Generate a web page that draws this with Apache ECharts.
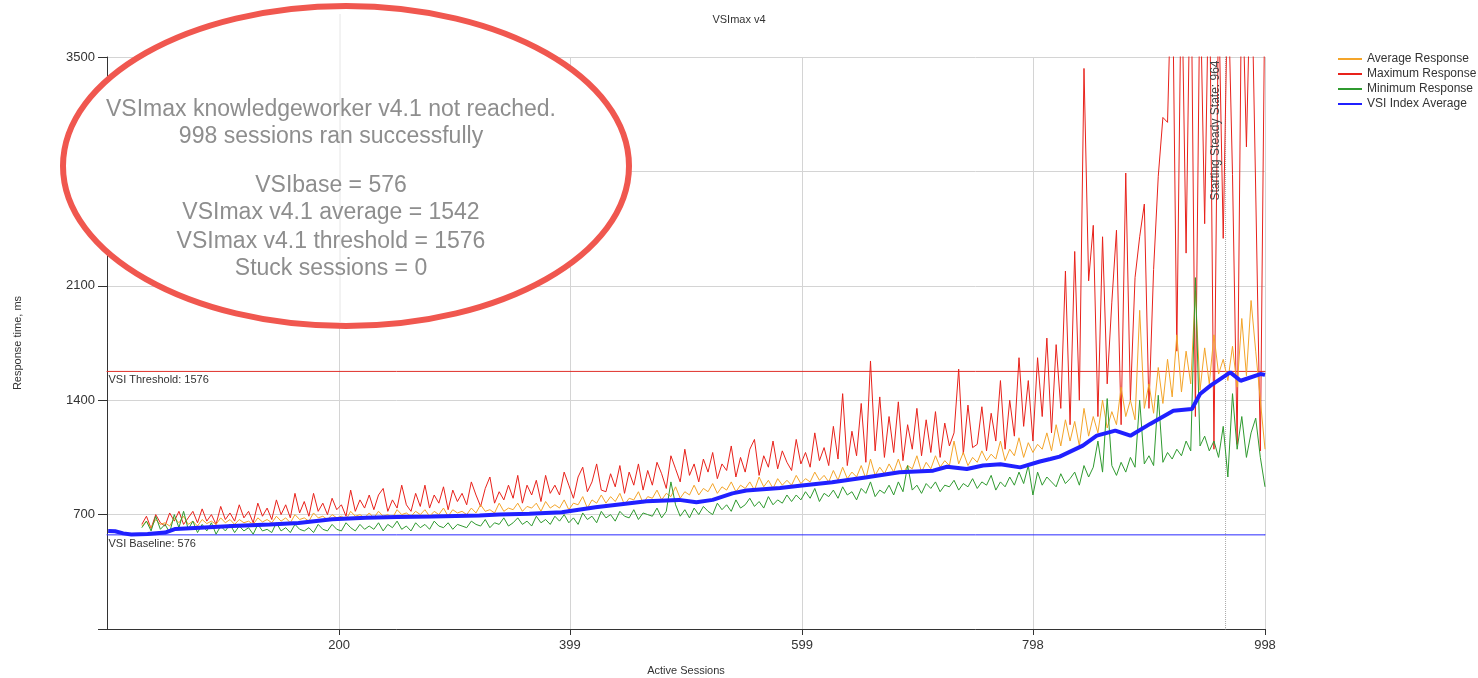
<!DOCTYPE html>
<html>
<head>
<meta charset="UTF-8">
<title>VSImax v4</title>
<script type="text/javascript" src="https://cdn.jsdelivr.net/npm/echarts@6.0.0/dist/echarts.min.js"></script>
<style>html,body{margin:0;padding:0;background:#fff;}</style>
</head>
<body>
<div id="mychar" style="width:1478px;height:678px;"></div>

<script type="text/javascript">

// x axis labels (active sessions)
var xTicks = [200, 399, 599, 798, 998];
var xMin = 0, xMax = 998, yMin = 0, yMax = 3500;

// response samples start at session 30, one every 4 sessions
var firstSession = 30, sessionStep = 4;

var maxResponse = [
  640, 690, 615, 700, 650, 630, 710, 660, 720, 640,
  680, 720, 650, 735, 660, 700, 640, 750, 670, 710,
  660, 760, 680, 720, 650, 770, 690, 740, 670, 790,
  700, 760, 680, 830, 710, 780, 690, 830, 720, 770,
  700, 800, 730, 760, 690, 850, 720, 790, 740, 820,
  730, 820, 860, 720, 790, 740, 880, 760, 720, 830,
  750, 880, 740, 820, 770, 870, 730, 850, 780, 830,
  760, 900, 820, 750, 860, 930, 770, 840, 790, 880,
  800, 940, 770, 880, 820, 910, 780, 940, 830, 880,
  820, 960, 880, 800, 930, 990, 840, 900, 1010, 850,
  840, 950, 870, 1000, 830, 960, 880, 1010, 850, 970,
  880, 1020, 950, 860, 1060, 980, 900, 1100, 940, 1010,
  900, 1040, 960, 1080, 920, 1010, 970, 1120, 930, 1050,
  960, 1100, 1160, 940, 1060, 990, 1150, 980, 1090, 1020,
  970, 1160, 1010, 1080, 990, 1200, 1030, 1110, 1000, 1240,
  1040, 1440, 1000, 1210, 1060, 1380, 1020, 1640, 1090, 1420,
  1050, 1300, 1080, 1390, 1030, 1250, 1100, 1350, 1060, 1280,
  1080, 1330, 1050, 1260, 1120, 1200, 1590, 1070, 1370, 1110,
  1130, 1360, 1090, 1320, 1150, 1520, 1100, 1400, 1180, 1660,
  1240, 1520, 1150, 1660, 1300, 1780, 1200, 1740, 1350, 2190,
  1250, 2310, 1400, 3430, 2130, 2470, 1300, 2400, 1500, 2000,
  2440, 1250, 2790, 1400, 2150, 2400, 2600, 1350, 2200, 2770,
  3130, 3100, 4200, 1700, 4100, 2300, 4300, 1300, 4000, 2480,
  4200, 1100, 3900, 2390, 4000, 2780, 1130, 4100, 2950, 4200,
  2680, 1090, 4000
];

var avgResponse = [
  630, 660, 620, 670, 640, 650, 630, 680, 650, 690,
  640, 660, 630, 670, 645, 660, 640, 680, 650, 670,
  640, 670, 650, 660, 640, 680, 655, 670, 650, 690,
  660, 680, 650, 700, 670, 680, 660, 710, 680, 690,
  670, 700, 680, 690, 670, 720, 690, 700, 680, 710,
  680, 720, 690, 700, 680, 730, 700, 710, 690, 720,
  700, 730, 690, 720, 700, 740, 690, 730, 710, 720,
  700, 740, 710, 760, 720, 730, 710, 770, 720, 740,
  730, 770, 720, 750, 740, 770, 720, 780, 740, 760,
  740, 790, 730, 770, 760, 810, 740, 790, 770, 820,
  770, 810, 780, 830, 760, 800, 790, 840, 770, 810,
  800, 850, 790, 830, 810, 870, 800, 840, 820, 880,
  820, 860, 840, 890, 830, 870, 850, 900, 840, 880,
  860, 900, 850, 930, 870, 910, 860, 920, 880, 910,
  880, 940, 890, 920, 900, 960, 910, 940, 900, 970,
  910, 990, 920, 960, 930, 1000, 920, 1040, 940, 990,
  950, 1010, 960, 1040, 950, 1000, 980, 1060, 960, 1020,
  980, 1060, 990, 1030, 1000, 1150, 1010, 1080, 1000, 1050,
  1020, 1090, 1030, 1070, 1040, 1150, 1030, 1100, 1060, 1170,
  1050, 1140, 1080, 1130, 1100, 1200, 1090, 1250, 1120, 1280,
  1150, 1270, 1120, 1350, 1180, 1300, 1200, 1400, 1230, 1330,
  1250, 1480, 1300, 1400, 1280, 1950, 1350, 1500, 1320, 1600,
  1380, 1650, 1420, 1800, 1450, 1700, 1500, 2070, 1460, 1720,
  1500, 1800, 1560, 1650, 1520, 1730, 1480, 1900, 1550, 2010,
  1700, 1400, 1100
];

var minResponse = [
  620, 660, 600, 690, 610, 640, 590, 700, 620, 720,
  610, 660, 590, 640, 600, 650, 580, 630, 600, 640,
  590, 630, 600, 620, 580, 640, 600, 610, 590, 650,
  600, 620, 590, 640, 610, 600, 620, 590, 640, 610,
  600, 640, 610, 600, 650, 620, 600, 640, 610, 630,
  610, 650, 600, 640, 620, 660, 610, 630, 600, 650,
  620, 640, 610, 660, 630, 620, 650, 610, 640, 630,
  620, 660, 640, 630, 670, 620, 650, 640, 680, 630,
  650, 680, 640, 660, 630, 690, 650, 670, 640, 690,
  660, 700, 650, 680, 640, 710, 670, 690, 650, 720,
  680, 700, 660, 720, 690, 680, 730, 670, 710, 700,
  690, 740, 680, 720, 900, 760, 690, 730, 680, 740,
  700, 750, 720, 700, 770, 730, 760, 720, 790, 740,
  760, 800, 750, 780, 740, 810, 760, 790, 770, 820,
  780, 820, 790, 840, 800, 860, 780, 830, 810, 850,
  800, 870, 820, 840, 790, 860, 830, 900, 810, 850,
  830, 880, 820, 900, 840, 1000, 850, 880, 830, 890,
  860, 900, 840, 880, 870, 910, 850, 890, 870, 920,
  860, 900, 880, 940, 850, 900, 870, 930, 880, 960,
  890, 1000, 820, 960, 880, 930, 900, 870, 950, 890,
  920, 960, 880, 1000, 930, 990, 1150, 960, 1410, 1000,
  940, 1020, 960, 1050, 990, 1400, 1010, 1060, 1000, 1430,
  1020, 1080, 1040, 1100, 1060, 1150, 1090, 2150, 1120, 1180,
  1090, 1150, 1050, 1240, 930, 1440, 1100, 1300, 1050, 1200,
  1290, 1050, 870
];

// VSI index average (smooth curve)
var vsiSessions = [1, 7, 14, 21, 35, 50, 59, 80, 108, 140, 165, 194, 223, 250, 280, 321, 338, 364, 392, 421,
  445, 465, 493, 508, 522, 539, 551, 580, 597, 625, 655, 683, 712, 724, 741, 755, 770, 787, 804, 813, 821,
  841, 853, 869, 882, 899, 919, 935, 942, 951, 968, 977, 994, 998];
var vsiIndexAvg = [600, 598, 585, 578, 582, 590, 612, 620, 630, 640, 649, 672, 680, 685, 688, 694, 700, 705, 714, 745,
  765, 781, 790, 776, 790, 830, 847, 863, 877, 898, 928, 959, 969, 993, 979, 1000, 1008, 989, 1025, 1040, 1055,
  1122, 1183, 1214, 1183, 1255, 1336, 1346, 1438, 1489, 1570, 1519, 1560, 1555];

var vsiBaseline = 576, vsiThreshold = 1576, steadyState = 964;

var summaryLines = [
  'VSImax knowledgeworker v4.1 not reached.',
  '998 sessions ran successfully',
  'VSIbase = 576',
  'VSImax v4.1 average = 1542',
  'VSImax v4.1 threshold = 1576',
  'Stuck sessions = 0'
];

var FONT = '"Liberation Sans", Arial, sans-serif';
var RED = '#e8221b', ORANGE = '#f4a52a', GREEN = '#2f9a2f', BLUE = '#2020ff';

function toPairs(xs, ys) {
  return ys.map(function (v, i) { return [xs[i], v]; });
}
var sessions = maxResponse.map(function (v, i) { return firstSession + i * sessionStep; });

var mychart = echarts.init(document.getElementById('mychar'));

var summaryY = [110, 137, 186, 213, 242, 269];
var summaryText = summaryLines.map(function (t, i) {
  return {
    type: 'text', x: 331, y: summaryY[i], z: 101,
    style: {
      text: t, font: '23px ' + FONT, fill: '#8e8e8e',
      textAlign: 'center', textVerticalAlign: 'middle', align: 'center', verticalAlign: 'middle',
      shadowBlur: 3, shadowColor: 'rgba(130,130,130,0.9)'
    }
  };
});

// reference line drawn as a 2-point series; the label sits on the first point
function refSeries(name, from, to, color, type, label) {
  return {
    name: name, type: 'line', silent: true, animation: false,
    symbol: 'circle', symbolSize: 1, showSymbol: true,
    lineStyle: { color: color, width: 1, type: type },
    itemStyle: { color: color },
    emphasis: { disabled: true },
    data: [
      { value: from, label: Object.assign({ show: true, fontSize: 11, color: '#333', fontFamily: FONT }, label) },
      { value: to }
    ]
  };
}

var option = {
  animation: false,
  backgroundColor: '#fff',
  title: {
    text: 'VSImax v4', left: 'center', top: 9,
    textStyle: { fontSize: 11, fontWeight: 'normal', color: '#333', fontFamily: FONT }
  },
  legend: {
    orient: 'vertical', left: 1333, top: 48, itemWidth: 24, itemHeight: 2, itemGap: 3,
    icon: 'rect',
    textStyle: { fontSize: 12, color: '#333', fontFamily: FONT },
    data: ['Average Response', 'Maximum Response', 'Minimum Response', 'VSI Index Average']
  },
  grid: { left: 107, right: 213, top: 57, bottom: 49, containLabel: false, outerBoundsMode: 'none' },
  xAxis: {
    type: 'value', min: xMin, max: xMax,
    name: 'Active Sessions', nameLocation: 'middle', nameGap: 36,
    nameTextStyle: { fontSize: 11, color: '#333', fontFamily: FONT },
    axisLine: { lineStyle: { color: '#333' } },
    axisTick: { show: true, length: 6, customValues: xTicks, lineStyle: { color: '#333' } },
    axisLabel: { customValues: xTicks, fontSize: 13, color: '#333', margin: 10, fontFamily: FONT },
    splitLine: { show: true, lineStyle: { color: '#d4d4d4' } }
  },
  yAxis: {
    type: 'value', min: yMin, max: yMax, interval: 700,
    name: 'Response time, ms', nameLocation: 'middle', nameGap: 84, nameRotate: 90,
    nameTextStyle: { fontSize: 11, color: '#333', fontFamily: FONT },
    axisLine: { show: true, lineStyle: { color: '#333' } },
    axisTick: { show: true, length: 9, lineStyle: { color: '#333' } },
    axisLabel: {
      fontSize: 13, color: '#333', margin: 12, fontFamily: FONT,
      formatter: function (v) { return v === 0 ? '' : v; }
    },
    splitLine: { show: true, lineStyle: { color: '#d4d4d4' } }
  },
  series: [
    refSeries('VSI Threshold', [xMin, vsiThreshold], [xMax, vsiThreshold], '#e0302a', 'solid',
      { formatter: 'VSI Threshold: ' + vsiThreshold, position: [2, 4], align: 'left', verticalAlign: 'top' }),
    refSeries('VSI Baseline', [xMin, vsiBaseline], [xMax, vsiBaseline], '#2a2aff', 'solid',
      { formatter: 'VSI Baseline: ' + vsiBaseline, position: [2, 4], align: 'left', verticalAlign: 'top' }),
    refSeries('Steady State', [steadyState, yMax], [steadyState, yMin], '#a8a8a8', 'dotted',
      { formatter: 'Starting Steady State: ' + steadyState, position: [-3, 4], rotate: 90,
        align: 'right', verticalAlign: 'bottom', fontSize: 12, color: '#444' }),
    {
      name: 'Maximum Response', type: 'line', data: toPairs(sessions, maxResponse),
      showSymbol: false, symbol: 'none', itemStyle: { color: RED }, lineStyle: { width: 1, color: RED }
    },
    {
      name: 'Average Response', type: 'line', data: toPairs(sessions, avgResponse),
      showSymbol: false, symbol: 'none', itemStyle: { color: ORANGE }, lineStyle: { width: 1, color: ORANGE }
    },
    {
      name: 'Minimum Response', type: 'line', data: toPairs(sessions, minResponse),
      showSymbol: false, symbol: 'none', itemStyle: { color: GREEN }, lineStyle: { width: 1, color: GREEN }
    },
    {
      name: 'VSI Index Average', type: 'line', data: toPairs(vsiSessions, vsiIndexAvg),
      showSymbol: false, symbol: 'none', itemStyle: { color: BLUE }, lineStyle: { width: 4, color: BLUE }
    }
  ],
  graphic: [
    {
      type: 'ellipse', z: 100,
      shape: { cx: 346, cy: 166, rx: 283, ry: 160 },
      style: { fill: '#fff', stroke: '#f0574f', lineWidth: 6 }
    },
    {
      type: 'line', z: 100,
      shape: { x1: 340, y1: 14, x2: 340, y2: 322 },
      style: { stroke: '#e6e6e6', lineWidth: 1 }
    }
  ].concat(summaryText)
};

mychart.setOption(option);
</script>
</body>
</html>
